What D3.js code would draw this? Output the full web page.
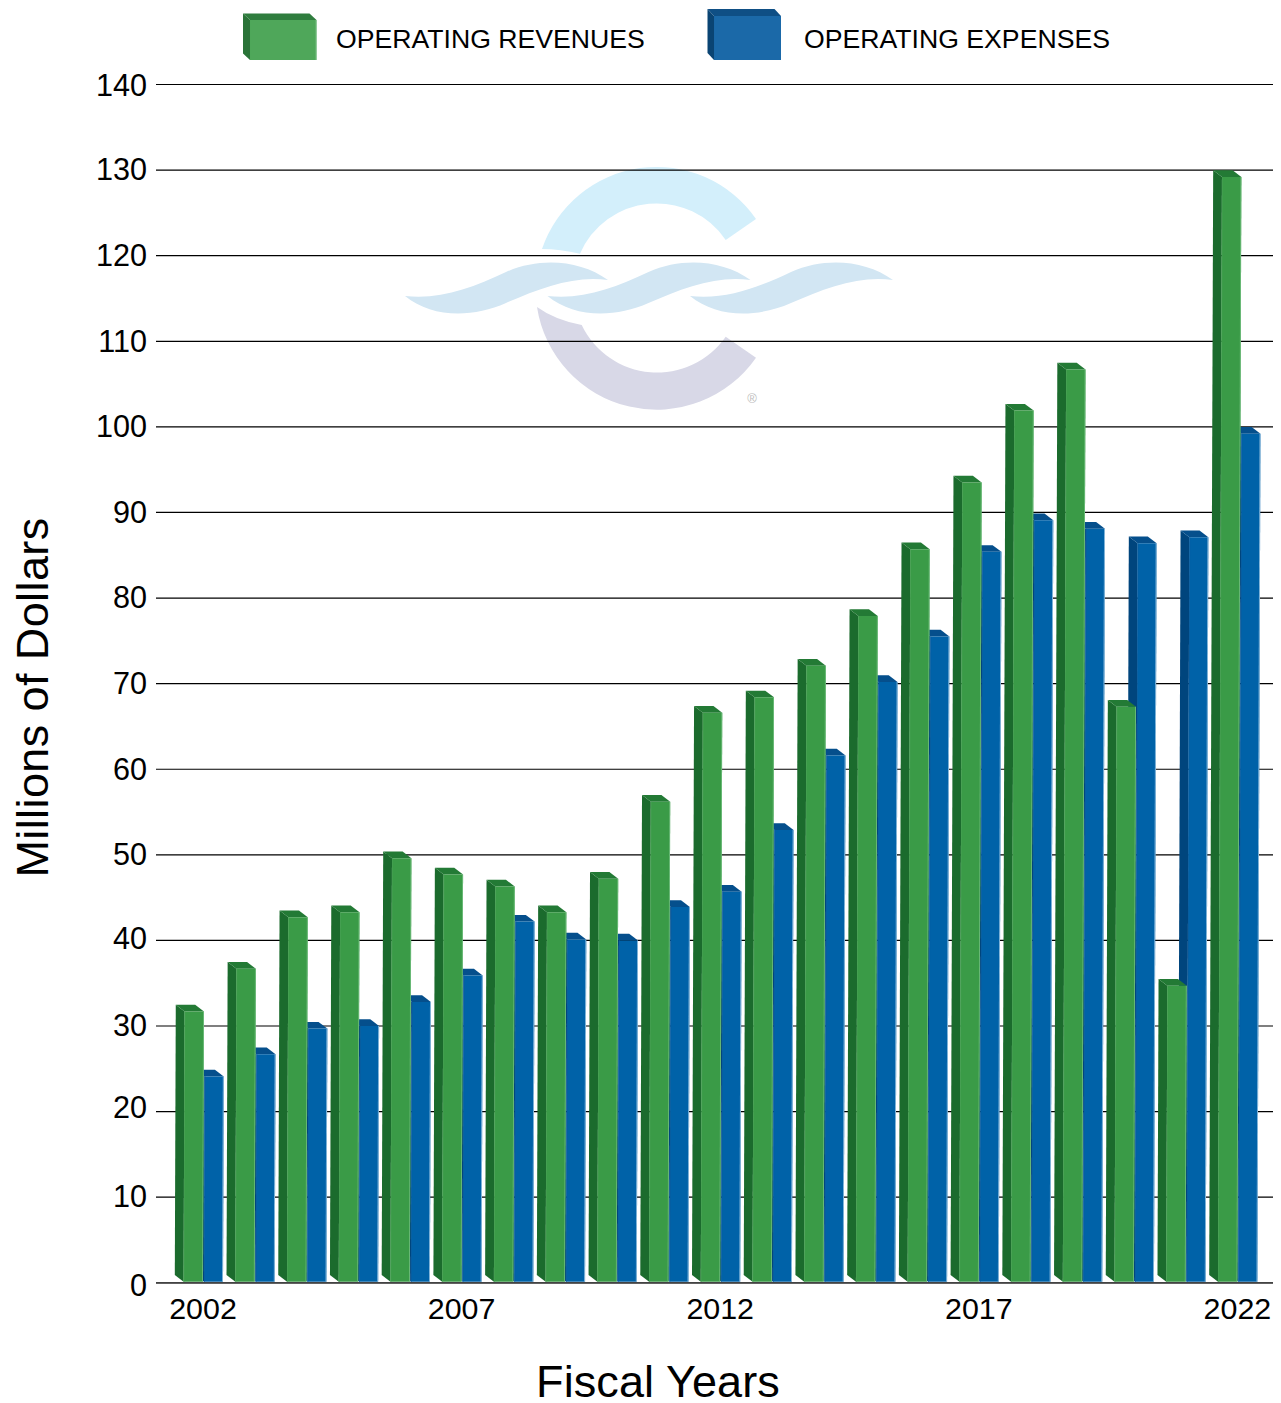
<!DOCTYPE html>
<html>
<head>
<meta charset="utf-8">
<title>Operating revenues and expenses</title>
<script src="https://cdnjs.cloudflare.com/ajax/libs/d3/7.8.5/d3.min.js"></script>
<style>
  html, body { margin: 0; padding: 0; background: #fff; }
  svg { display: block; }
  text { font-family: "Liberation Sans", Arial, sans-serif; fill: #000; }
</style>
</head>
<body>
<svg id="chart" width="1281" height="1403"></svg>
<script>
// Fiscal years and the two series, in millions of dollars
const years = d3.range(2002, 2023);
const labelledYears = [2002, 2007, 2012, 2017, 2022];
const revenues = [31.7, 36.7, 42.7, 43.3, 49.6, 47.7, 46.3, 43.3, 47.2, 56.2, 66.6,
                  68.4, 72.1, 77.9, 85.7, 93.5, 101.9, 106.7, 67.3, 34.7, 129.2];
const expenses = [24.1, 26.7, 29.7, 30.0, 32.8, 35.9, 42.2, 40.1, 40.0, 43.9, 45.7,
                  52.9, 61.6, 70.2, 75.5, 85.4, 89.1, 88.1, 86.4, 87.1, 99.2];
const yTicks = d3.range(0, 141, 10);
// Small hand adjustments of the value captions relative to their rules, by tick value
const captionNudge = { 0: 3, 10: -0.5, 20: -3, 30: 0, 40: -1, 50: 0.5, 60: 0.5, 70: 0.5, 80: 0, 90: 0.5, 100: 0, 110: 0.5, 120: 0.5, 130: 0, 140: 1.5 };

const svg = d3.select("#chart");
const fontStack = '"Liberation Sans", Arial, sans-serif';

const y = d3.scaleLinear().domain([0, 140]).range([1282.8, 84.5]);
// Centre of each year's pair of columns, measured at the foot of the columns
const x = d3.scalePoint().domain(years).range([203, 1237.4]);

const barW = 19.4;   // front face width
const dx = 8.8;      // extrusion of the box to the upper left
const dy = 6.7;
const baseGap = 1;   // columns stop just above the axis line
const lean = 0.0036; // columns lean slightly to the right as they rise

const palette = {
  green: { front: "#3a9b47", top: "#237a35", side: "#1b6b2d", edgeL: "#459f52", edgeR: "#6dbb7a" },
  blue:  { front: "#0062a8", top: "#054f8c", side: "#00457d", edgeL: "#0a5c9e", edgeR: "#8dbbdc" },
  legendGreen: { front: "#4fa75a", top: "#2f7d3e", side: "#2a7338", edgeL: "#4fa75a", edgeR: "#7cc088" },
  legendBlue:  { front: "#1b69a8", top: "#0f4f85", side: "#0a4473", edgeL: "#1b69a8", edgeR: "#1b69a8" }
};

// Emblem behind the gridlines: two arcs of a ring and three interlocking waves
function drawEmblem(root) {
  const g = root.append("g").attr("class", "emblem");
  g.append("path").attr("fill", "#d3effb")
    .attr("d", "M542,249 A121,121 0 0 1 756,219 L725.7,240 A83.5,83.5 0 0 0 580,253.7 Q560,249 542,249 Z");
  g.append("path").attr("fill", "#d8d8e7")
    .attr("d", "M537,307 A121,121 0 0 0 756,357.7 L725.7,336.7 A83.5,83.5 0 0 1 581.7,325 Q555,320 537,307 Z");
  const wave = "M405,296 C440,300 472,288 506,272 C540,257 580,260 608,280 C575,275 540,288 506,303 C472,318 432,318 405,296 Z";
  [0, 142.5, 285].forEach(shift => {
    g.append("path").attr("fill", "#d2e6f3").attr("d", wave)
      .attr("transform", `translate(${shift},0)`);
  });
  g.append("text").attr("x", 752).attr("y", 403).attr("text-anchor", "middle")
    .style("font-size", "13px").style("fill", "#bdbdbd").text("®");
}
drawEmblem(svg);

// Horizontal rules and value labels
const yAxis = d3.axisLeft(y).tickValues(yTicks).tickSize(0).tickPadding(9).offset(0);
const yAxisG = svg.append("g").attr("transform", "translate(156,0)").call(yAxis);
yAxisG.select(".domain").remove();
yAxisG.selectAll("text").style("font-size", "30.6px").style("font-family", fontStack)
  .attr("y", d => captionNudge[d] || 0);
yAxisG.selectAll(".tick").append("line")
  .attr("x1", 0).attr("x2", 1117)
  .attr("stroke", "#000").attr("stroke-width", 1.2);

// Extruded box: front face, top and side faces, thin lit edges on the front
function box(g, left, top, bottom, w, colors, ox, oy, k) {
  const t = k * (bottom - top);       // horizontal shift of the top relative to the foot
  const tl = left + t, tr = left + t + w, br = left + w;
  const poly = (fill, pts) => g.append("polygon").attr("fill", fill)
    .attr("points", pts.map(p => p.join(",")).join(" "));
  poly(colors.side, [[tl, top], [tl - ox, top - oy], [left - ox, bottom - oy], [left, bottom]]);
  poly(colors.top, [[tl, top], [tl - ox, top - oy], [tr - ox, top - oy], [tr, top]]);
  poly(colors.front, [[tl, top], [tr, top], [br, bottom], [left, bottom]]);
  poly(colors.edgeL, [[tl, top], [tl + 0.8, top], [left + 0.8, bottom], [left, bottom]]);
  poly(colors.edgeR, [[tr - 0.9, top], [tr, top], [br, bottom], [br - 0.9, bottom]]);
}

const bars = svg.append("g").attr("class", "bars");
years.forEach((year, i) => {
  const g = bars.append("g").attr("class", "year");
  const base = y(0) - baseGap;
  // Expenses go first so the revenue column overlaps their side face
  box(g, x(year) + 1, y(expenses[i]), base, barW - 0.4, palette.blue, dx, dy, lean);
  box(g, x(year) - barW, y(revenues[i]), base, barW, palette.green, dx, dy, lean);
});

// Axis line and year captions
const xAxis = d3.axisBottom(x).tickValues(labelledYears).tickSize(0).tickPadding(14.5).offset(0)
  .tickFormat(d3.format("d"));
const xAxisG = svg.append("g").attr("transform", `translate(0,${y(0)})`).call(xAxis);
xAxisG.select(".domain").remove();
xAxisG.selectAll("text").style("font-size", "30.4px").style("font-family", fontStack);
xAxisG.append("line").attr("x1", 156).attr("x2", 1273)
  .attr("stroke", "#444").attr("stroke-width", 1.2);

// Legend
const legendItems = [
  { label: "OPERATING REVENUES", colors: palette.legendGreen, left: 250, top: 20, w: 66.5, ox: 7, oy: 6.5, tx: 336 },
  { label: "OPERATING EXPENSES", colors: palette.legendBlue, left: 714, top: 16, w: 67, ox: 6.5, oy: 7, tx: 804 }
];
const legend = svg.append("g").attr("class", "legend");
legendItems.forEach(d => {
  const g = legend.append("g");
  box(g, d.left, d.top, 60, d.w, d.colors, d.ox, d.oy, 0);
  g.append("text").attr("x", d.tx).attr("y", 47.5).style("font-size", "26.65px").text(d.label);
});

// Axis titles
svg.append("text").attr("x", 658).attr("y", 1396.5).attr("text-anchor", "middle")
  .style("font-size", "45px").style("letter-spacing", "0.1px").text("Fiscal Years");
svg.append("text").attr("transform", "translate(47.5,697.5) rotate(-90)").attr("text-anchor", "middle")
  .style("font-size", "45px").style("letter-spacing", "0.4px").text("Millions of Dollars");
</script>
</body>
</html>
